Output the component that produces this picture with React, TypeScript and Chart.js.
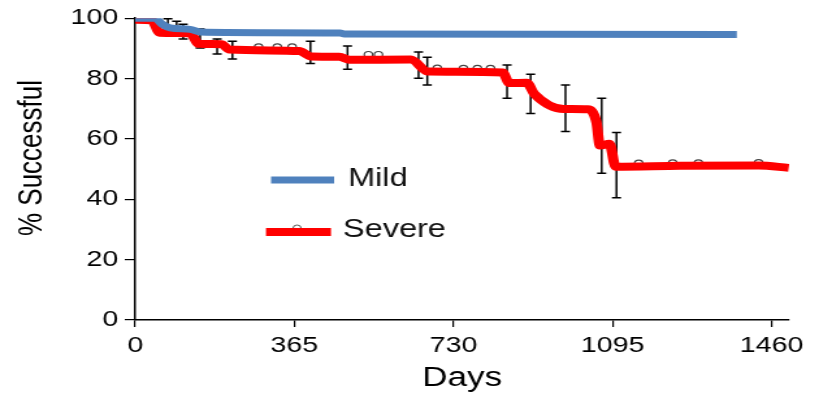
import React, { useEffect, useRef } from "react";
import { Chart, registerables } from "chart.js";

Chart.register(...registerables);

// ---- data ----
const xTickValues = [0, 365, 730, 1095, 1460];
const yTickValues = [0, 20, 40, 60, 80, 100];

const mildDays = [0, 45, 62, 80, 126, 150, 290, 470, 480, 1380];
const mildValues = [100, 100, 98, 96.8, 96.3, 95.4, 95.2, 95.1, 94.8, 94.6];

const severeDays = [0, 38, 56, 126, 146, 198, 216, 376, 404, 468, 492, 632, 672, 843, 858, 898, 916, 983, 1038, 1058, 1066, 1088, 1102, 1250, 1430, 1499];
const severeValues = [99.5, 99.3, 95.2, 95.0, 91.5, 91.4, 89.6, 89.1, 87.3, 87.2, 86.2, 86.3, 82.3, 82.0, 78.5, 78.6, 74.8, 69.9, 69.8, 65.5, 57.8, 58.4, 50.8, 51.1, 51.2, 50.4];

const errDays = [75, 95, 110, 149, 188, 223, 402, 487, 650, 670, 853, 907, 987, 1070, 1104];
const errLow = [96.5, 94.5, 93.1, 90.1, 88.1, 86.5, 85.0, 83.1, 80.1, 77.9, 73.5, 68.4, 62.5, 48.6, 40.5];
const errHigh = [99.8, 99.0, 98.0, 96.4, 93.1, 92.4, 92.4, 90.8, 88.8, 87.1, 84.5, 81.4, 77.9, 73.5, 62.1];

const censorDays = [283, 326, 360, 535, 558, 693, 753, 785, 815, 1155, 1233, 1292, 1430];
const censorValues = [90.4, 90.4, 90.4, 87.9, 87.9, 83.4, 83.3, 83.3, 83.3, 51.9, 52.0, 52.0, 52.1];

const seriesLabels = ["Mild", "Severe"];
const xTitle = "Days";
const yTitle = "% Successful";

// ---- layout / style ----
const W = 819;
const H = 395;
const STRETCH = 1.3;
const IW = Math.round(W / STRETCH);
const FONT = '"Liberation Sans", Arial, sans-serif';
const BLUE = "#4F81BD";
const RED = "#FF0000";

export default function App() {
  const ref = useRef<HTMLCanvasElement>(null);

  useEffect(() => {
    document.body.style.margin = "0";
    const canvas = ref.current;
    if (!canvas) return;

    const errorBars = {
      id: "errorBars",
      beforeDatasetsDraw(chart: any) {
        const { ctx, scales } = chart;
        const x = scales.x;
        const y = scales.y;
        ctx.save();
        ctx.strokeStyle = "#000";
        ctx.lineWidth = 1.5;
        errDays.forEach((d, i) => {
          const px = x.getPixelForValue(d);
          const top = y.getPixelForValue(errHigh[i]);
          const bot = y.getPixelForValue(errLow[i]);
          ctx.beginPath();
          ctx.moveTo(px, top);
          ctx.lineTo(px, bot);
          ctx.moveTo(px - 3.5, top);
          ctx.lineTo(px + 3.5, top);
          ctx.moveTo(px - 3.5, bot);
          ctx.lineTo(px + 3.5, bot);
          ctx.stroke();
        });
        ctx.restore();
      },
    };

    const yTitleDraw = {
      id: "yTitleDraw",
      afterDraw(chart: any) {
        const { ctx } = chart;
        ctx.save();
        ctx.translate(24.6, 158);
        ctx.rotate(-Math.PI / 2);
        ctx.fillStyle = "#000";
        ctx.font = `26px ${FONT}`;
        ctx.textAlign = "center";
        ctx.textBaseline = "middle";
        ctx.fillText(yTitle, 0, 0);
        ctx.restore();
      },
    };

    const legendBox = {
      id: "legendBox",
      afterDraw(chart: any) {
        const { ctx } = chart;
        ctx.save();
        ctx.lineCap = "butt";
        ctx.strokeStyle = BLUE;
        ctx.lineWidth = 7;
        ctx.beginPath();
        ctx.moveTo(208.5, 180);
        ctx.lineTo(257, 180);
        ctx.stroke();
        ctx.beginPath();
        ctx.strokeStyle = "#555";
        ctx.lineWidth = 1;
        ctx.arc(228.5, 228, 3, 0, Math.PI * 2);
        ctx.stroke();
        ctx.strokeStyle = RED;
        ctx.lineWidth = 8;
        ctx.beginPath();
        ctx.moveTo(204.6, 232);
        ctx.lineTo(254.6, 232);
        ctx.stroke();
        ctx.fillStyle = "#111";
        ctx.font = `25px ${FONT}`;
        ctx.textBaseline = "middle";
        ctx.textAlign = "left";
        ctx.fillText(seriesLabels[0], 267.7, 179);
        ctx.fillText(seriesLabels[1], 263.8, 230);
        ctx.restore();
      },
    };

    const chart = new Chart(canvas, {
      type: "line",
      data: {
        datasets: [
          {
            label: seriesLabels[0],
            data: mildDays.map((d, i) => ({ x: d, y: mildValues[i] })),
            borderColor: BLUE,
            backgroundColor: BLUE,
            borderWidth: 7,
            pointRadius: 0,
            cubicInterpolationMode: "monotone",
            borderJoinStyle: "round",
            order: 0,
          },
          {
            label: seriesLabels[1],
            data: severeDays.map((d, i) => ({ x: d, y: severeValues[i] })),
            borderColor: RED,
            backgroundColor: RED,
            borderWidth: 8,
            pointRadius: 0,
            cubicInterpolationMode: "monotone",
            borderJoinStyle: "round",
            order: 1,
          },
          {
            label: "censored",
            data: censorDays.map((d, i) => ({ x: d, y: censorValues[i] })),
            showLine: false,
            pointRadius: 3.2,
            pointStyle: "circle",
            pointBorderColor: "#444",
            pointBackgroundColor: "rgba(0,0,0,0)",
            pointBorderWidth: 1.2,
            order: 2,
          },
        ],
      },
      options: {
        responsive: false,
        animation: false,
        devicePixelRatio: 1,
        layout: { padding: { top: 17, right: IW - 607, bottom: 0, left: 0 } },
        plugins: {
          legend: { display: false },
          tooltip: { enabled: false },
        },
        scales: {
          x: {
            type: "linear",
            min: 0,
            max: 1500,
            afterBuildTicks: (s: any) => {
              s.ticks = xTickValues.map((v) => ({ value: v }));
            },
            afterFit: (s: any) => {
              s.height = H - 320;
            },
            grid: { drawOnChartArea: false, drawTicks: true, tickLength: 7, color: "#000", lineWidth: 1.2 },
            border: { display: true, color: "#000", width: 1.5 },
            ticks: {
              padding: 6,
              color: "#000",
              font: { family: FONT, size: 22 },
              maxRotation: 0,
              autoSkip: false,
              callback: (v: any) => String(v),
            },
            title: { display: true, text: xTitle, color: "#000", font: { family: FONT, size: 27 }, padding: { top: 0, bottom: 0 } },
          },
          y: {
            type: "linear",
            min: 0,
            max: 100,
            afterBuildTicks: (s: any) => {
              s.ticks = yTickValues.map((v) => ({ value: v }));
            },
            afterFit: (s: any) => {
              s.width = 104;
            },
            grid: { drawOnChartArea: false, drawTicks: true, tickLength: 8, color: "#000", lineWidth: 1.2 },
            border: { display: true, color: "#000", width: 1.5 },
            ticks: { padding: 5, color: "#000", font: { family: FONT, size: 22 }, callback: (v: any) => String(v) },
            title: { display: false },
          },
        },
      },
      plugins: [errorBars, legendBox, yTitleDraw],
    } as any);

    return () => chart.destroy();
  }, []);

  return (
    <div style={{ width: W, height: H, overflow: "hidden" }}>
      <canvas ref={ref} width={IW} height={H} style={{ width: W, height: H, display: "block" }} />
    </div>
  );
}
